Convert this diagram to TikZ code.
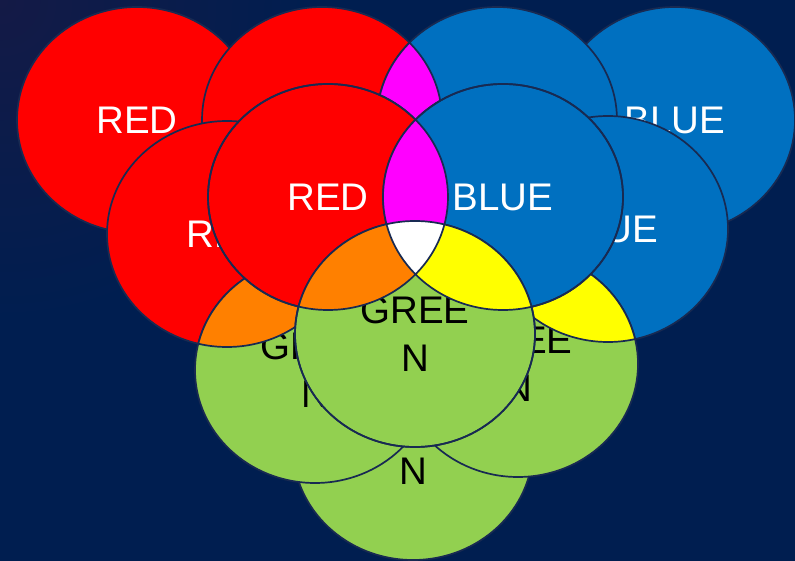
\documentclass[tikz,border=0pt]{standalone}
\usepackage{fontspec}
\setmainfont{Liberation Sans}
\usetikzlibrary{shapes.geometric}
\definecolor{bg}{RGB}{0,30,80}
\definecolor{bgcorner}{RGB}{20,26,70}
\definecolor{rimc}{RGB}{24,42,82}
\definecolor{cred}{RGB}{255,0,0}
\definecolor{cblue}{RGB}{0,112,192}
\definecolor{cgreen}{RGB}{146,208,80}
\definecolor{cmag}{RGB}{255,0,255}
\definecolor{corange}{RGB}{255,128,0}
\definecolor{cyel}{RGB}{255,255,0}
\tikzset{
  disk/.style={ellipse, draw=rimc, line width=1.7pt, minimum width=240pt, minimum height=226pt,
    inner sep=0pt, align=center, font=\fontsize{38.5}{48}\selectfont},
  redc/.style={disk, fill=cred, text=white},
  bluec/.style={disk, fill=cblue, text=white},
  greenc/.style={disk, fill=cgreen, text=black},
  rimline/.style={draw=rimc, line width=1.7pt},
}
\newcommand\ovl[1]{(#1.center) ellipse [x radius=120pt, y radius=113pt]}
\newcommand\lensfill[3]{%
  \begin{scope}\clip \ovl{#1}; \fill[#3] \ovl{#2}; \draw[rimline] \ovl{#2}; \end{scope}
  \begin{scope}\clip \ovl{#2}; \draw[rimline] \ovl{#1}; \end{scope}}
\begin{document}
\begin{tikzpicture}[x=1pt,y=-1pt]
\fill[bg] (0,0) rectangle (795,561);
\begin{scope}
  \clip (0,0) rectangle (795,561);
  \shade[inner color=bgcorner, outer color=bg] (0,0) circle (320pt);
\end{scope}
\useasboundingbox (0,0) rectangle (795,561);
% back layer
\node[redc] (ra) at (137,120) {RED};
\node[redc] (rb) at (322,120) {RED};
\node[bluec] (bd) at (675,120) {BLUE};
\node[bluec] (bc) at (497,120) {BLUE};
\node[redc] (re) at (227,234) {RED};
\node[bluec] (bf) at (608,229) {BLUE};
\node[greenc] (gi) at (413,447) {GREE\\N};
\node[greenc] (gg) at (315,370) {GREE\\N};
\node[greenc] (gh) at (518,364) {GREE\\N};
\lensfill{rb}{bc}{cmag}
\lensfill{re}{gg}{corange}
\lensfill{bf}{gh}{cyel}
% front layer
\node[redc] (rj) at (328,197) {RED};
\node[bluec] (bk) at (503,197) {BLUE};
\node[greenc] (gl) at (415,334) {GREE\\N};
\begin{scope}\clip \ovl{rj}; \fill[cmag] \ovl{bk}; \end{scope}
\begin{scope}\clip \ovl{rj}; \fill[corange] \ovl{gl}; \end{scope}
\begin{scope}\clip \ovl{bk}; \fill[cyel] \ovl{gl}; \end{scope}
\begin{scope}\clip \ovl{rj}; \clip \ovl{bk}; \fill[white] \ovl{gl}; \end{scope}
\draw[rimline] \ovl{rj} \ovl{bk} \ovl{gl};
\end{tikzpicture}
\end{document}
